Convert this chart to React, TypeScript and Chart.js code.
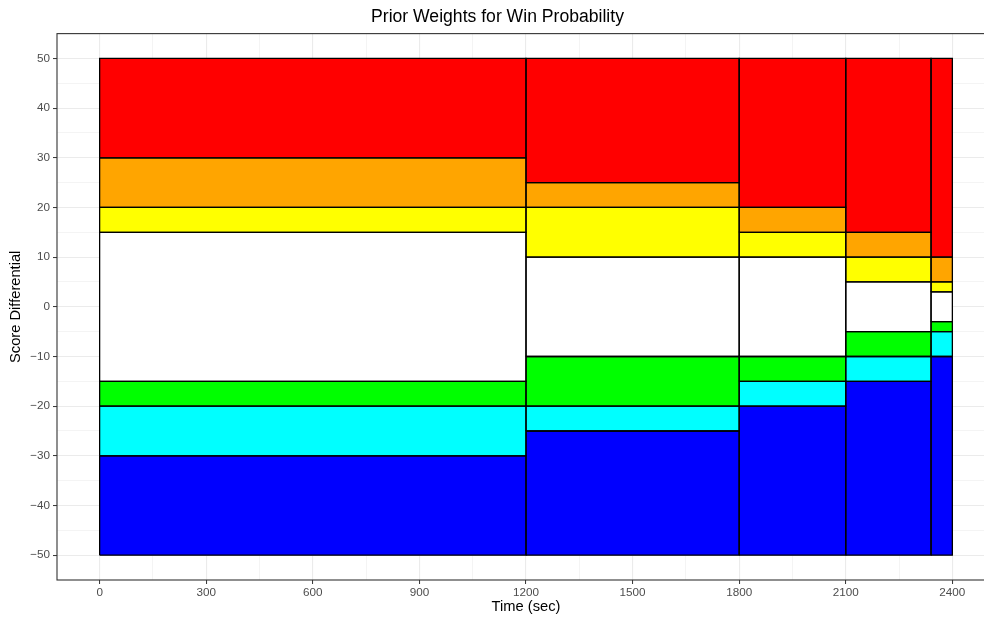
import React, { useEffect, useRef } from "react";
import { Chart, registerables } from "chart.js";

Chart.register(...registerables);

// ---- data ----
const timeBreaks = [0, 1200, 1800, 2100, 2340, 2400];
const bandColors = ["#0000FF", "#00FFFF", "#00FF00", "#FFFFFF", "#FFFF00", "#FFA500", "#FF0000"];
const scoreBreaks0 = [-50, -30, -20, -15, 15, 20, 30, 50];
const scoreBreaks1200 = [-50, -25, -20, -10, 10, 20, 25, 50];
const scoreBreaks1800 = [-50, -20, -15, -10, 10, 15, 20, 50];
const scoreBreaks2100 = [-50, -15, -10, -5, 5, 10, 15, 50];
const scoreBreaks2340 = [-50, -10, -5, -3, 3, 5, 10, 50];
const columnBreaks = [scoreBreaks0, scoreBreaks1200, scoreBreaks1800, scoreBreaks2100, scoreBreaks2340];

const xMajorTicks = [0, 300, 600, 900, 1200, 1500, 1800, 2100, 2400];
const xMinorTicks = [150, 450, 750, 1050, 1350, 1650, 1950, 2250];
const yMajorTicks = [-50, -40, -30, -20, -10, 0, 10, 20, 30, 40, 50];
const yMinorTicks = [-45, -35, -25, -15, -5, 5, 15, 25, 35, 45];

const FONT = "'Liberation Sans', Arial, Helvetica, sans-serif";

function fmt(v: number): string {
  return v < 0 ? "\u2212" + String(Math.abs(v)) : String(v);
}

export default function App() {
  const ref = useRef<HTMLCanvasElement | null>(null);

  useEffect(() => {
    if (!ref.current) return;
    const fills: any[] = [];
    const outlines: any[] = [];
    columnBreaks.forEach((breaks, ci) => {
      const x0 = timeBreaks[ci];
      const x1 = timeBreaks[ci + 1];
      for (let j = 0; j < breaks.length - 1; j++) {
        const y0 = breaks[j];
        const y1 = breaks[j + 1];
        // filled area: top edge filled down to the bottom value
        fills.push({
          type: "scatter",
          showLine: true,
          order: 1,
          data: [
            { x: x0, y: y1 },
            { x: x1, y: y1 },
          ],
          fill: { value: y0 },
          backgroundColor: bandColors[j],
          borderColor: "rgba(0,0,0,0)",
          borderWidth: 0,
          pointRadius: 0,
          pointHoverRadius: 0,
          tension: 0,
        });
        // black outline of the rectangle
        outlines.push({
          type: "scatter",
          showLine: true,
          order: 0,
          data: [
            { x: x0, y: y0 },
            { x: x0, y: y1 },
            { x: x1, y: y1 },
            { x: x1, y: y0 },
            { x: x0, y: y0 },
          ],
          fill: false,
          backgroundColor: "rgba(0,0,0,0)",
          borderColor: "#000000",
          borderWidth: 1.3,
          pointRadius: 0,
          pointHoverRadius: 0,
          tension: 0,
        });
      }
    });

    const majorX = new Set(xMajorTicks);
    const majorY = new Set(yMajorTicks);

    const panelBorder = {
      id: "panelBorder",
      afterDraw(chart: any) {
        const { ctx, chartArea } = chart;
        ctx.save();
        ctx.strokeStyle = "#333333";
        ctx.lineWidth = 1.1;
        ctx.strokeRect(chartArea.left, chartArea.top, chartArea.right - chartArea.left, chartArea.bottom - chartArea.top);
        ctx.restore();
      },
    };

    const chart = new Chart(ref.current, {
      type: "scatter",
      data: { datasets: [...fills, ...outlines] },
      plugins: [panelBorder],
      options: {
        animation: false,
        responsive: false,
        events: [],
        layout: { padding: { left: 0, right: 5, top: 0, bottom: 0 } },
        plugins: {
          legend: { display: false },
          tooltip: { enabled: false },
          title: {
            display: true,
            text: "Prior Weights for Win Probability",
            color: "#000000",
            font: { family: FONT, size: 17.6, weight: "normal" },
            padding: { top: 6.5, bottom: 6 },
          },
        },
        scales: {
          x: {
            type: "linear",
            min: -120,
            max: 2520,
            afterBuildTicks: (scale: any) => {
              scale.ticks = [...xMajorTicks, ...xMinorTicks].sort((a, b) => a - b).map((v) => ({ value: v }));
            },
            afterFit: (scale: any) => {
              scale.height = 37;
            },
            border: { display: false },
            grid: {
              color: "#EBEBEB",
              lineWidth: (c: any) => (majorX.has(c.tick?.value) ? 1.1 : 0.55),
              tickColor: (c: any) => (majorX.has(c.tick?.value) ? "#333333" : "rgba(0,0,0,0)"),
              tickLength: 4,
              tickWidth: 1,
            },
            ticks: {
              autoSkip: false,
              maxRotation: 0,
              padding: 2,
              color: "#4D4D4D",
              font: { family: FONT, size: 11.7 },
              callback: (v: any) => (majorX.has(Number(v)) ? fmt(Number(v)) : ""),
            },
            title: {
              display: true,
              text: "Time (sec)",
              color: "#000000",
              font: { family: FONT, size: 14.7 },
              padding: { top: 0, bottom: 1.2 },
            },
          },
          y: {
            type: "linear",
            min: -55,
            max: 55,
            afterBuildTicks: (scale: any) => {
              scale.ticks = [...yMajorTicks, ...yMinorTicks].sort((a, b) => a - b).map((v) => ({ value: v }));
            },
            afterFit: (scale: any) => {
              scale.width = 57;
            },
            border: { display: false },
            grid: {
              color: "#EBEBEB",
              lineWidth: (c: any) => (majorY.has(c.tick?.value) ? 1.1 : 0.55),
              tickColor: (c: any) => (majorY.has(c.tick?.value) ? "#333333" : "rgba(0,0,0,0)"),
              tickLength: 4,
              tickWidth: 1,
            },
            ticks: {
              autoSkip: false,
              padding: 3,
              color: "#4D4D4D",
              font: { family: FONT, size: 11.7 },
              callback: (v: any) => (majorY.has(Number(v)) ? fmt(Number(v)) : ""),
            },
            title: {
              display: true,
              text: "Score Differential",
              color: "#000000",
              font: { family: FONT, size: 14.7 },
              padding: { top: 7.2, bottom: 0 },
            },
          },
        },
      } as any,
    });

    return () => chart.destroy();
  }, []);

  return (
    <div
      style={{
        position: "fixed",
        left: 0,
        top: 0,
        width: 984,
        height: 617,
        overflow: "hidden",
        background: "#ffffff",
      }}
    >
      <canvas ref={ref} width={1000} height={617} style={{ display: "block" }} />
    </div>
  );
}
